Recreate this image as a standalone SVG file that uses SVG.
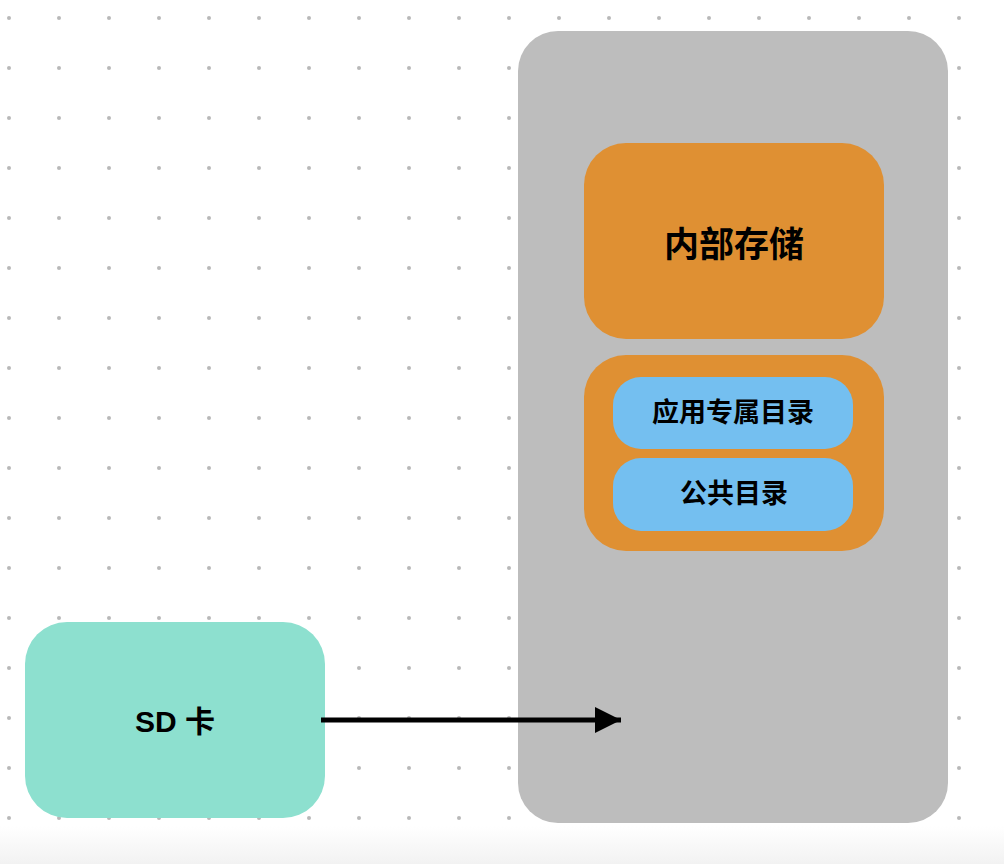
<svg xmlns="http://www.w3.org/2000/svg" width="1004" height="864" viewBox="0 0 1004 864">
  <defs>
    <pattern id="dots" x="0" y="0" width="50" height="50" patternUnits="userSpaceOnUse">
      <circle cx="9" cy="18" r="2" fill="#b8b8b8"/>
    </pattern>
    <linearGradient id="band" x1="0" y1="0" x2="0" y2="1">
      <stop offset="0" stop-color="#ffffff"/>
      <stop offset="1" stop-color="#f2f2f2"/>
    </linearGradient>
    <marker id="arrow" viewBox="0 0 26 26" refX="26" refY="13" markerWidth="26" markerHeight="26" markerUnits="userSpaceOnUse" orient="auto">
      <path d="M0,0 L26,13 L0,26 Z" fill="#000000"/>
    </marker>
    <style>
      .lbl { font-family: "Liberation Sans", "Noto Sans CJK SC", sans-serif; font-weight: 600; fill: #000000; text-anchor: middle; dominant-baseline: central; }
      .orange { fill: #df9033; }
      .blue { fill: #74bff0; }
    </style>
  </defs>
  <rect x="0" y="0" width="1004" height="864" fill="#ffffff"/>
  <rect x="0" y="0" width="1004" height="826" fill="url(#dots)"/>
  <rect x="0" y="826" width="1004" height="38" fill="url(#band)"/>

  <g id="device">
    <rect x="518" y="31" width="430" height="792" rx="40" ry="40" fill="#bdbdbd"/>
  </g>
  <g id="internal-storage">
    <rect class="orange" x="584" y="143" width="300" height="196" rx="42" ry="42"/>
    <text class="lbl" x="734" y="244" font-size="35">内部存储</text>
  </g>
  <g id="dir-group">
    <rect class="orange" x="584" y="355" width="300" height="196" rx="42" ry="42"/>
  </g>
  <g id="app-dir">
    <rect class="blue" x="613" y="377" width="240" height="72" rx="28" ry="28"/>
    <text class="lbl" x="733" y="413" font-size="27">应用专属目录</text>
  </g>
  <g id="public-dir">
    <rect class="blue" x="613" y="458" width="240" height="73" rx="28" ry="28"/>
    <text class="lbl" x="734" y="494" font-size="27">公共目录</text>
  </g>
  <g id="sd-card">
    <rect x="25" y="622" width="300" height="196" rx="42" ry="42" fill="#8de0cf"/>
    <text class="lbl" x="175" y="721" font-size="30">SD 卡</text>
  </g>
  <g id="connectors">
    <line x1="321" y1="720" x2="621" y2="720" stroke="#000000" stroke-width="5" marker-end="url(#arrow)"/>
  </g>
</svg>
